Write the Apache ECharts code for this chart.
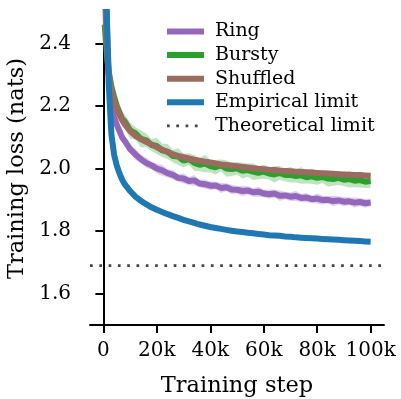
<!DOCTYPE html>
<html>
<head>
<meta charset="utf-8">
<script src="https://cdn.jsdelivr.net/npm/echarts@6/dist/echarts.min.js"></script>
<style>
  html, body { margin: 0; padding: 0; background: #fff; }
  #chart { width: 401px; height: 399px; }
</style>
</head>
<body>
<div id="chart"></div>
<script>
// training steps (x)
var steps = [500, 1000, 1500, 2000, 3000, 4000, 5000, 6000, 7000, 8000,
  10000, 12000, 14000, 16000, 18000, 20000, 22000, 24000, 26000, 28000,
  30000, 32000, 34000, 36000, 38000, 40000, 42000, 44000, 46000, 48000,
  50000, 52000, 54000, 56000, 58000, 60000, 62000, 64000, 66000, 68000,
  70000, 72000, 74000, 76000, 78000, 80000, 82000, 84000, 86000, 88000,
  90000, 92000, 94000, 96000, 98000, 100000];

var ring = [2.75, 2.55, 2.42, 2.31, 2.20, 2.165, 2.14, 2.12, 2.10, 2.088,
  2.062, 2.045, 2.03, 2.018, 2.01, 2.0, 1.994, 1.985, 1.98, 1.97,
  1.968, 1.96, 1.962, 1.952, 1.95, 1.945, 1.946, 1.938, 1.94, 1.933,
  1.932, 1.928, 1.93, 1.924, 1.926, 1.92, 1.918, 1.92, 1.913, 1.914,
  1.91, 1.912, 1.906, 1.907, 1.902, 1.904, 1.899, 1.90, 1.896, 1.898,
  1.894, 1.895, 1.891, 1.893, 1.889, 1.891];
var ringSpread = [0.01, 0.012, 0.012, 0.014, 0.012, 0.015, 0.013, 0.016, 0.012, 0.015,
  0.014, 0.017, 0.013, 0.016, 0.012, 0.015, 0.018, 0.013, 0.015, 0.012,
  0.016, 0.013, 0.017, 0.012, 0.015, 0.014, 0.012, 0.016, 0.013, 0.015,
  0.012, 0.017, 0.013, 0.014, 0.016, 0.012, 0.015, 0.013, 0.017, 0.012,
  0.014, 0.016, 0.013, 0.015, 0.012, 0.016, 0.014, 0.012, 0.017, 0.013,
  0.015, 0.012, 0.016, 0.013, 0.014, 0.012];

var bursty = [2.46, 2.40, 2.35, 2.31, 2.262, 2.23, 2.20, 2.18, 2.158, 2.15,
  2.122, 2.112, 2.095, 2.09, 2.075, 2.072, 2.058, 2.054, 2.04, 2.038,
  2.025, 2.03, 2.018, 2.012, 2.016, 2.008, 2.004, 2.01, 2.0, 1.998,
  2.001, 1.993, 1.995, 1.99, 1.986, 1.99, 1.984, 1.981, 1.986, 1.979,
  1.98, 1.976, 1.978, 1.972, 1.975, 1.97, 1.973, 1.968, 1.966, 1.97,
  1.964, 1.966, 1.961, 1.963, 1.958, 1.96];
var burstySpread = [0.015, 0.018, 0.02, 0.022, 0.02, 0.024, 0.021, 0.026, 0.02, 0.023,
  0.025, 0.02, 0.027, 0.022, 0.019, 0.026, 0.021, 0.024, 0.02, 0.027,
  0.022, 0.019, 0.025, 0.021, 0.028, 0.02, 0.023, 0.019, 0.026, 0.022,
  0.02, 0.025, 0.021, 0.027, 0.02, 0.023, 0.019, 0.026, 0.022, 0.02,
  0.025, 0.021, 0.027, 0.02, 0.024, 0.022, 0.019, 0.026, 0.021, 0.023,
  0.02, 0.027, 0.021, 0.024, 0.02, 0.022];

var shuffled = [2.60, 2.45, 2.36, 2.30, 2.25, 2.218, 2.193, 2.172, 2.155, 2.142,
  2.12, 2.105, 2.094, 2.085, 2.077, 2.068, 2.06, 2.053, 2.046, 2.04,
  2.036, 2.032, 2.028, 2.025, 2.022, 2.019, 2.016, 2.013, 2.011, 2.009,
  2.007, 2.005, 2.003, 2.001, 1.999, 1.998, 1.996, 1.995, 1.993, 1.992,
  1.991, 1.99, 1.989, 1.988, 1.987, 1.986, 1.985, 1.984, 1.983, 1.982,
  1.981, 1.98, 1.979, 1.979, 1.978, 1.977];

var empirical = [2.90, 2.60, 2.42, 2.27, 2.11, 2.045, 2.01, 1.985, 1.965, 1.95,
  1.928, 1.91, 1.897, 1.886, 1.876, 1.868, 1.861, 1.854, 1.848, 1.842,
  1.836, 1.831, 1.826, 1.821, 1.817, 1.813, 1.81, 1.807, 1.804, 1.801,
  1.799, 1.797, 1.795, 1.793, 1.791, 1.789, 1.787, 1.786, 1.785, 1.783,
  1.782, 1.78, 1.779, 1.778, 1.777, 1.776, 1.775, 1.774, 1.773, 1.772,
  1.771, 1.77, 1.769, 1.768, 1.767, 1.766];

var theoreticalLimit = 1.69;
var xRange = [-5000, 105000];
var yRange = [1.5, 2.5];
var xTicks = [0, 20000, 40000, 60000, 80000, 100000];
var yTicks = [1.6, 1.8, 2.0, 2.2, 2.4];

var font = 'DejaVu Serif';

function pairs(ys) {
  return steps.map(function (s, i) { return [s, ys[i]]; });
}

function lineSeries(name, ys, color) {
  return {
    name: name,
    type: 'line',
    data: pairs(ys),
    symbol: 'none',
    lineStyle: { color: color, width: 6 },
    itemStyle: { color: color },
    z: 3
  };
}

function bandSeries(name, ys, spread, color) {
  var data = steps.map(function (s, i) { return [s, ys[i] - spread[i], ys[i] + spread[i]]; });
  return {
    name: name,
    type: 'custom',
    clip: true,
    silent: true,
    data: data,
    encode: { x: 0, y: [1, 2] },
    z: 2,
    renderItem: function (params, api) {
      if (params.dataIndex !== 0) return;
      var upper = [], lower = [];
      data.forEach(function (d) {
        upper.push(api.coord([d[0], d[2]]));
        lower.unshift(api.coord([d[0], d[1]]));
      });
      return {
        type: 'polygon',
        shape: { points: upper.concat(lower) },
        style: { fill: color, opacity: 0.3 }
      };
    }
  };
}

var chart = echarts.init(document.getElementById('chart'));

var option = {
  animation: false,
  textStyle: { fontFamily: font },
  grid: { left: 90, right: 17, top: 12, bottom: 74, outerBoundsMode: 'none' },
  legend: {
    orient: 'vertical',
    left: 164,
    top: 22,
    padding: 0,
    itemWidth: 37,
    itemHeight: 12,
    itemGap: 4.6,
    itemStyle: { opacity: 0 },
    lineStyle: { width: 6 },
    textStyle: { fontFamily: font, fontSize: 19, color: '#000', lineHeight: 19, padding: [0, 0, 0, 6] },
    data: [
      'Ring', 'Bursty', 'Shuffled', 'Empirical limit',
      { name: 'Theoretical limit', lineStyle: { width: 2.7 } }
    ]
  },
  xAxis: {
    type: 'value',
    min: xRange[0],
    max: xRange[1],
    name: 'Training step',
    nameLocation: 'middle',
    nameGap: 50,
    nameTextStyle: { fontFamily: font, fontSize: 22.5, color: '#000' },
    splitLine: { show: false },
    axisLine: { show: true, lineStyle: { color: '#000', width: 2 } },
    axisTick: { show: true, length: 8, lineStyle: { color: '#000', width: 2 }, customValues: xTicks },
    axisLabel: {
      fontFamily: font, fontSize: 20, color: '#000', margin: 16,
      customValues: xTicks,
      formatter: function (v) { return v === 0 ? '0' : (v / 1000) + 'k'; }
    }
  },
  yAxis: {
    type: 'value',
    min: yRange[0],
    max: yRange[1],
    name: 'Training loss (nats)',
    nameLocation: 'middle',
    nameGap: 55,
    nameTextStyle: { fontFamily: font, fontSize: 22.5, color: '#000' },
    splitLine: { show: false },
    axisLine: { show: true, lineStyle: { color: '#000', width: 2 } },
    axisTick: { show: true, length: 8, lineStyle: { color: '#000', width: 2 }, customValues: yTicks },
    axisLabel: {
      fontFamily: font, fontSize: 20, color: '#000', margin: 19,
      customValues: yTicks,
      formatter: function (v) { return v.toFixed(1); }
    }
  },
  series: [
    bandSeries('Ring band', ring, ringSpread, '#9467bd'),
    lineSeries('Ring', ring, '#9467bd'),
    bandSeries('Bursty band', bursty, burstySpread, '#2ca02c'),
    lineSeries('Bursty', bursty, '#2ca02c'),
    lineSeries('Shuffled', shuffled, '#9a6b5e'),
    lineSeries('Empirical limit', empirical, '#1f77b4'),
    {
      name: 'Theoretical limit',
      type: 'line',
      data: [[xRange[0], theoreticalLimit], [xRange[1], theoreticalLimit]],
      symbol: 'none',
      lineStyle: { color: '#444', width: 2.7, type: [2.7, 6.6] },
      itemStyle: { color: '#444' },
      z: 4
    }
  ]
};

chart.setOption(option);
</script>
</body>
</html>
